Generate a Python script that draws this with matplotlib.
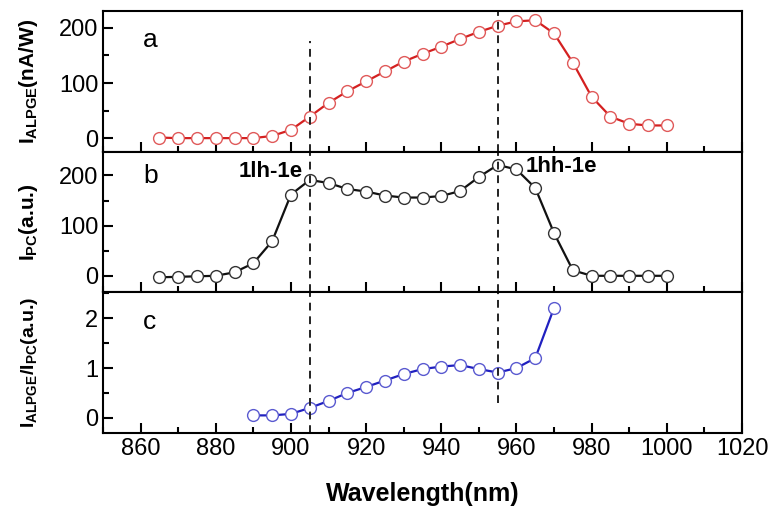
import numpy as np
import matplotlib
matplotlib.use("Agg")
import matplotlib.pyplot as plt
from matplotlib.ticker import MultipleLocator

plt.rcParams['font.family'] = ['Liberation Sans', 'DejaVu Sans']
plt.rcParams['mathtext.fontset'] = 'custom'
plt.rcParams['mathtext.rm'] = 'Liberation Sans'
plt.rcParams['mathtext.bf'] = 'Liberation Sans:bold'

# wavelengths (nm)
wl_ab = np.arange(865, 1001, 5)
wl_c = np.arange(890, 971, 5)

# panel a: I_ALPGE (nA/W)
i_alpge = [1, 0, 0, 0, 0, 0, 4, 15, 39, 64, 85, 103, 121, 139,
           153, 166, 180, 193, 204, 212, 214, 190, 137, 75, 39, 26, 23, 23]
# panel b: I_PC (a.u.)
i_pc = [-3, -2, -1, 0, 7, 25, 69, 162, 191, 185, 173, 168, 160, 156,
        156, 159, 169, 197, 221, 212, 175, 85, 11, 0, 0, 0, 0, 0]
# panel c: ratio
ratio = [0.05, 0.05, 0.08, 0.2, 0.34, 0.5, 0.62, 0.75, 0.88, 0.98,
         1.03, 1.06, 0.98, 0.91, 1.0, 1.2, 2.21]

fig = plt.figure(figsize=(7.71, 5.08), dpi=100)
left, width = 0.1336, 0.8288
h = 0.2765
bottoms = [0.148 + 2 * h, 0.148 + h, 0.148]
axa = fig.add_axes([left, bottoms[0], width, h])
axb = fig.add_axes([left, bottoms[1], width, h], sharex=axa)
axc = fig.add_axes([left, bottoms[2], width, h], sharex=axa)

mk = dict(marker='o', markersize=8.5, markerfacecolor='white', markeredgewidth=1.0, linewidth=1.6)
axa.plot(wl_ab, i_alpge, color='#d42020', markeredgecolor='#e05a5a', **mk)
axb.plot(wl_ab, i_pc, color='#111111', markeredgecolor='#333333', **mk)
axc.plot(wl_c, ratio, color='#2020c0', markeredgecolor='#5a5ad0', **mk)

axa.set_ylim(-25, 230)
axb.set_ylim(-33, 247)
axc.set_ylim(-0.3, 2.52)
axa.set_xlim(850, 1020)

for ax in (axa, axb, axc):
    for s in ax.spines.values():
        s.set_linewidth(1.5)
    ax.xaxis.set_major_locator(MultipleLocator(20))
    ax.xaxis.set_minor_locator(MultipleLocator(10))
    ax.tick_params(which='both', direction='in', top=False, right=False, width=1.5, labelsize=17)
    ax.tick_params(which='major', length=7)
    ax.tick_params(which='minor', length=4)
for ax in (axa, axb):
    ax.yaxis.set_major_locator(MultipleLocator(100))
    ax.yaxis.set_minor_locator(MultipleLocator(50))
    ax.tick_params(labelbottom=False)
axc.yaxis.set_major_locator(MultipleLocator(1))
axc.yaxis.set_minor_locator(MultipleLocator(0.5))
axc.set_xticks(np.arange(860, 1021, 20))

# dashed guide lines
dash = dict(color='#222222', linestyle=(0, (4, 3)), linewidth=1.4)
axa.axvline(905, ymax=0.787, **dash)
axa.axvline(955, **dash)
axb.axvline(905, **dash)
axb.axvline(955, **dash)
axc.axvline(905, **dash)
axc.axvline(955, ymin=0.214, **dash)

axa.text(0.063, 0.80, 'a', transform=axa.transAxes, fontsize=19, va='center')
axb.text(0.063, 0.83, 'b', transform=axb.transAxes, fontsize=19, va='center')
axc.text(0.063, 0.79, 'c', transform=axc.transAxes, fontsize=19, va='center')

axb.text(894.5, 207, '1lh-1e', fontsize=16, fontweight='bold', ha='center', va='center')
axb.text(962.5, 217, '1hh-1e', fontsize=16, fontweight='bold', ha='left', va='center')

axa.set_ylabel(r'$\mathbf{I_{ALPGE}}$(nA/W)', fontsize=15, fontweight='bold')
axb.set_ylabel(r'$\mathbf{I_{PC}}$(a.u.)', fontsize=15, fontweight='bold')
axc.set_ylabel(r'$\mathbf{I_{ALPGE}/I_{PC}}$(a.u.)', fontsize=14, fontweight='bold')
for ax in (axa, axb, axc):
    ax.yaxis.set_label_coords(-0.098, 0.5)

axc.set_xlabel('Wavelength(nm)', fontsize=18, fontweight='bold', labelpad=16)

fig.savefig('out.png', dpi=100)
